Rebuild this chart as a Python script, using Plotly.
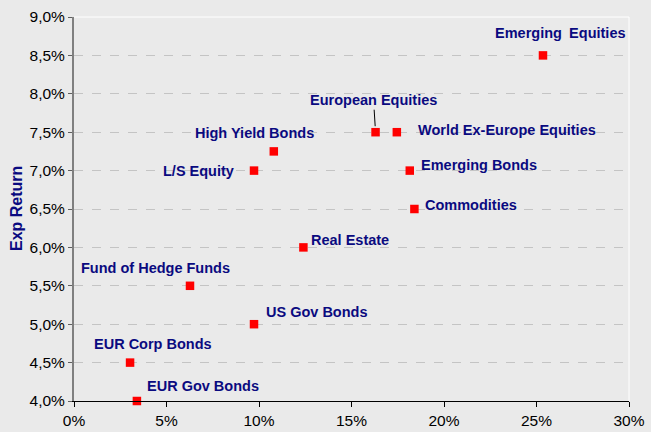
import plotly.graph_objects as go

# asset classes: expected volatility (x) vs expected return (y)
assets = ["Emerging\u2002Equities", "European Equities", "World Ex-Europe Equities",
          "High Yield Bonds", "L/S Equity", "Emerging Bonds", "Commodities",
          "Real Estate", "Fund of Hedge Funds", "US Gov Bonds", "EUR Corp Bonds",
          "EUR Gov Bonds"]
volatility = [0.2535, 0.163, 0.1745, 0.108, 0.0973, 0.1815, 0.184,
              0.124, 0.0627, 0.0973, 0.0303, 0.034]
exp_return = [0.085, 0.075, 0.075, 0.0725, 0.070, 0.070, 0.065,
              0.060, 0.055, 0.050, 0.045, 0.040]

# label placement (anchor, xshift, yshift) per asset
label_pos = [("center", 18, 22), ("center", -2, 32), ("left", 19, 2),
             ("center", -19, 18), ("right", -18, 0), ("left", 9, 6),
             ("left", 9, 4), ("left", 6, 7), ("center", -35, 18),
             ("left", 10, 12), ("center", 23, 19), ("left", 8, 15)]

NAVY = "#0A0A80"
BG = "#EAEAEA"
FONT = "Liberation Sans, Arial"

fig = go.Figure()
fig.add_trace(go.Scatter(
    x=volatility, y=exp_return, mode="markers",
    marker=dict(symbol="square", size=8.5, color="#FF0000", line=dict(width=0)),
    hoverinfo="skip", showlegend=False, cliponaxis=False,
))

for name, vx, vy, (anc, dx, dy) in zip(assets, volatility, exp_return, label_pos):
    lbl = dict(color=NAVY, size=14.5, family=FONT)
    if name == "European Equities":
        fig.add_annotation(x=vx, y=vy, text="<b>%s</b>" % name, showarrow=True,
                           arrowhead=0, arrowwidth=1, arrowcolor="black",
                           ax=-2, ay=-32, standoff=6, font=lbl)
    else:
        fig.add_annotation(x=vx, y=vy, text="<b>%s</b>" % name, showarrow=False,
                           xanchor=anc, yanchor="middle", xshift=dx, yshift=dy,
                           font=lbl)

# y axis title as a rotated annotation so it sits where the original does
fig.add_annotation(xref="paper", yref="paper", x=-0.1045, y=0.5,
                   text="<b>Exp Return</b>", textangle=-90, showarrow=False,
                   xanchor="center", yanchor="middle",
                   font=dict(color=NAVY, size=16, family=FONT))

# faint white border on the top and right of the plot area
fig.add_shape(type="line", xref="paper", yref="paper", x0=0, x1=1, y0=1, y1=1,
              line=dict(color="white", width=1))
fig.add_shape(type="line", xref="paper", yref="paper", x0=1, x1=1, y0=0, y1=1,
              line=dict(color="white", width=1))

fig.update_layout(
    width=651, height=432,
    margin=dict(l=74, r=22, t=17, b=31),
    paper_bgcolor=BG, plot_bgcolor=BG,
    separators=",.",
    font=dict(family=FONT, size=15.5, color="black"),
    xaxis=dict(range=[0, 0.30], tickvals=[0, 0.05, 0.10, 0.15, 0.20, 0.25, 0.30],
               tickformat=".0%", showgrid=False, zeroline=False, automargin=False,
               showline=True, linecolor="black", linewidth=1,
               ticks="outside", ticklen=5, tickcolor="black"),
    yaxis=dict(range=[0.04, 0.09], dtick=0.005, tickformat=".1%", automargin=False,
               showgrid=True, gridcolor="#C4C4C4", griddash="dash", gridwidth=1,
               zeroline=False, showline=True, linecolor="#808080", linewidth=2,
               ticks="outside", ticklen=4, tickcolor="#606060"),
)

# drop the page's default body margin so the figure fills the window
fig.write_html("out.html", config={"displayModeBar": False},
               post_script="document.body.style.margin='0';"
                           "document.body.style.background='%s';" % BG)
